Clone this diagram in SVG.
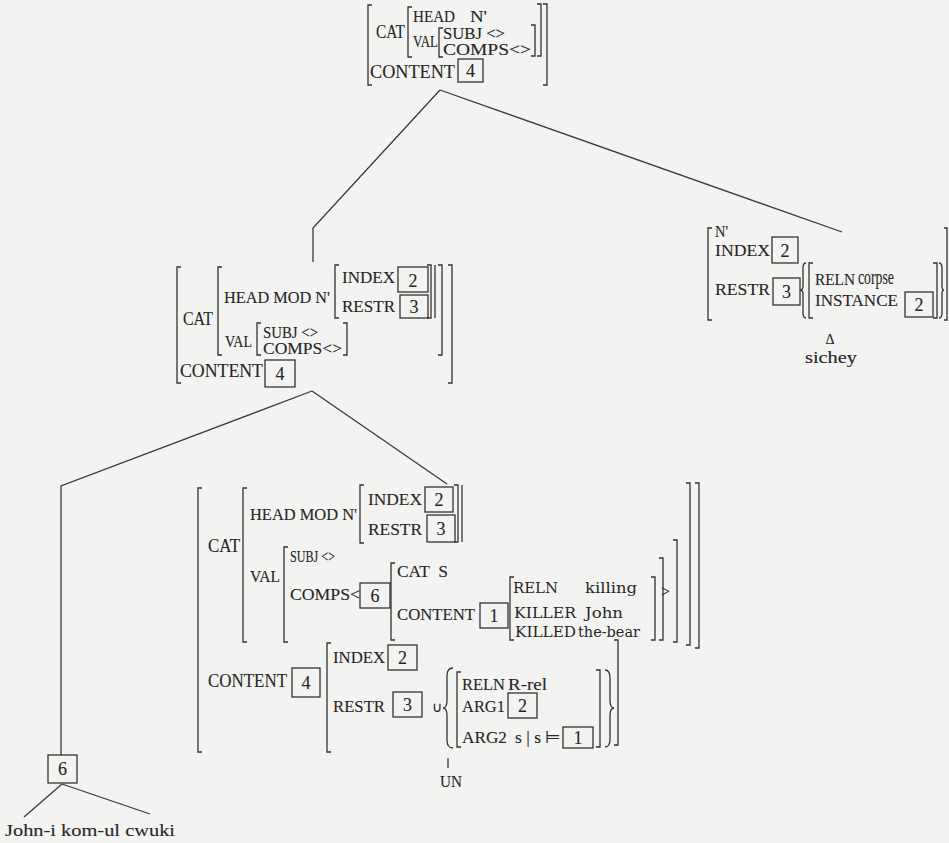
<svg xmlns="http://www.w3.org/2000/svg" width="949" height="843" viewBox="0 0 949 843">
<style>
.t{font-family:"Liberation Serif","Times New Roman",serif;font-size:17px;fill:#262626;stroke:#262626;stroke-width:0.12}
.L{font-size:19px}
.M{font-size:18px}
.s{font-size:16px}
.c{font-family:"DejaVu Serif","Liberation Serif",serif;font-size:15px;fill:#262626}
.n{font-family:"Liberation Serif","Times New Roman",serif;font-size:18px;fill:#262626;stroke:#262626;stroke-width:0.12;text-anchor:middle}
.b{fill:none;stroke:#333;stroke-width:1.3}
.k{fill:none;stroke:#333;stroke-width:1.3}
.e{fill:none;stroke:#3a3a3a;stroke-width:1.3}
</style>
<rect x="0" y="0" width="949" height="843" fill="#f3f3f1"/>

<g id="connectors">
<path class="e" d="M440,90 L313,228 V262"/>
<path class="e" d="M440,90 L842,232"/>
<path class="e" d="M312,391 L61,486 V755"/>
<path class="e" d="M312,391 L447,484"/>
<path class="e" d="M62,784 L24,817"/>
<path class="e" d="M62,784 L150,814"/>
</g>

<g id="n-top">
<path class="b" d="M372,5H368V85H372"/>
<path class="b" d="M412,7H408V57H412"/>
<path class="b" d="M443,28H439V57H443"/>
<path class="b" d="M531,25H535V56H531"/>
<path class="b" d="M537,4H541V56H537"/>
<path class="b" d="M543,4H547V85H543"/>
<text class="t L" x="376" y="38" textLength="29" lengthAdjust="spacingAndGlyphs">CAT</text>
<text class="t s" x="413" y="22" textLength="42" lengthAdjust="spacingAndGlyphs">HEAD</text>
<text class="t s" x="470" y="22" textLength="17" lengthAdjust="spacingAndGlyphs">N'</text>
<text class="t s" x="413" y="47" textLength="25" lengthAdjust="spacingAndGlyphs">VAL</text>
<text class="t s" x="443" y="39" textLength="62" lengthAdjust="spacingAndGlyphs">SUBJ &lt;&gt;</text>
<text class="t s" x="443" y="55" textLength="88" lengthAdjust="spacingAndGlyphs">COMPS&lt;&gt;</text>
<text class="t L" x="370" y="78" textLength="85" lengthAdjust="spacingAndGlyphs">CONTENT</text>
<rect class="k" x="458" y="59" width="25" height="23"/>
<text class="n" x="470.5" y="77">4</text>
</g>

<g id="n-mid">
<path class="b" d="M181,267H177V383H181"/>
<path class="b" d="M222,267H218V355H222"/>
<path class="b" d="M339,265H335V318H339"/>
<path class="b" d="M427,265H431V318H427"/>
<path class="b" d="M435,265V318"/>
<path class="b" d="M438,265H442V355H438"/>
<path class="b" d="M448,265H452V383H448"/>
<path class="b" d="M261,323H257V355H261"/>
<path class="b" d="M343,323H347V355H343"/>
<text class="t M" x="183" y="325" textLength="30" lengthAdjust="spacingAndGlyphs">CAT</text>
<text class="t" x="224" y="303" textLength="106" lengthAdjust="spacingAndGlyphs">HEAD MOD N'</text>
<text class="t" x="342" y="283" textLength="53" lengthAdjust="spacingAndGlyphs">INDEX</text>
<rect class="k" x="398" y="267" width="30" height="25"/>
<text class="n" x="413" y="287">2</text>
<text class="t" x="342" y="312" textLength="53" lengthAdjust="spacingAndGlyphs">RESTR</text>
<rect class="k" x="400" y="295" width="28" height="23"/>
<text class="n" x="414" y="313">3</text>
<text class="t s" x="225" y="347" textLength="27" lengthAdjust="spacingAndGlyphs">VAL</text>
<text class="t s" x="263" y="338" textLength="55" lengthAdjust="spacingAndGlyphs">SUBJ &lt;&gt;</text>
<text class="t s" x="263" y="354" textLength="79" lengthAdjust="spacingAndGlyphs">COMPS&lt;&gt;</text>
<text class="t M" x="180" y="377" textLength="83" lengthAdjust="spacingAndGlyphs">CONTENT</text>
<rect class="k" x="265" y="360" width="30" height="27"/>
<text class="n" x="280" y="380">4</text>
</g>

<g id="n-right">
<path class="b" d="M712,228H708V320H712"/>
<path class="b" d="M806,263Q803,263 803,268V286Q803,290 800,290Q803,290 803,294V313Q803,318 806,318"/>
<path class="b" d="M813,263H809V318H813"/>
<path class="b" d="M933,263H937V318H933"/>
<path class="b" d="M939,263Q942,263 942,268V286Q942,290 944,290Q942,290 942,294V313Q942,318 939,318"/>
<path class="b" d="M944,228H947V320H944"/>
<text class="t s" x="715" y="237" textLength="13" lengthAdjust="spacingAndGlyphs">N'</text>
<text class="t" x="715" y="256" textLength="55" lengthAdjust="spacingAndGlyphs">INDEX</text>
<rect class="k" x="772" y="237" width="26" height="26"/>
<text class="n" x="785" y="257">2</text>
<text class="t" x="715" y="295" textLength="55" lengthAdjust="spacingAndGlyphs">RESTR</text>
<rect class="k" x="773" y="278" width="27" height="27"/>
<text class="n" x="786.5" y="298">3</text>
<text class="t" x="815" y="285" textLength="40" lengthAdjust="spacingAndGlyphs">RELN</text>
<text class="t" x="858" y="284" style="font-size:20px" textLength="36" lengthAdjust="spacingAndGlyphs">corpse</text>
<text class="t" x="815" y="306" textLength="83" lengthAdjust="spacingAndGlyphs">INSTANCE</text>
<rect class="k" x="905" y="292" width="28" height="25"/>
<text class="n" x="919" y="311">2</text>
<text class="t" x="830" y="344" text-anchor="middle" style="font-size:14px">Δ</text>
<text class="t" x="805" y="363" textLength="52" lengthAdjust="spacingAndGlyphs">sichey</text>
</g>

<g id="n-bottom">
<path class="b" d="M202,488H198V752H202"/>
<path class="b" d="M247,488H243V642H247"/>
<path class="b" d="M364,485H360V543H364"/>
<path class="b" d="M454,485H458V542H454"/>
<path class="b" d="M462,485V542"/>
<path class="b" d="M288,547H284V642H288"/>
<path class="b" d="M395,563H391V640H395"/>
<path class="b" d="M514,577H510V640H514"/>
<path class="b" d="M651,577H655V640H651"/>
<path class="b" d="M659,558H663V640H659"/>
<path class="b" d="M673,540H677V642H673"/>
<path class="b" d="M686,483H690V645H686"/>
<path class="b" d="M695,483H699V648H695"/>
<path class="b" d="M331,643H327V752H331"/>
<path class="b" d="M453,668Q447,668 447,676V700Q447,708 443,708Q447,708 447,716V740Q447,748 453,748"/>
<path class="b" d="M461,672H457V747H461"/>
<path class="b" d="M596,670H600V747H596"/>
<path class="b" d="M605,670Q610,670 610,678V700Q610,708 614,708Q610,708 610,716V739Q610,747 605,747"/>
<path class="b" d="M614,640H618V745H614"/>
<path class="b" d="M448,758V768"/>
<text class="t M" x="208" y="552" textLength="32" lengthAdjust="spacingAndGlyphs">CAT</text>
<text class="t" x="250" y="520" textLength="107" lengthAdjust="spacingAndGlyphs">HEAD MOD N'</text>
<text class="t" x="368" y="505" textLength="54" lengthAdjust="spacingAndGlyphs">INDEX</text>
<rect class="k" x="425" y="487" width="28" height="25"/>
<text class="n" x="439" y="506">2</text>
<text class="t" x="368" y="535" textLength="54" lengthAdjust="spacingAndGlyphs">RESTR</text>
<rect class="k" x="427" y="515" width="28" height="27"/>
<text class="n" x="441" y="535">3</text>
<text class="t" x="250" y="582" textLength="30" lengthAdjust="spacingAndGlyphs">VAL</text>
<text class="t s" x="290" y="562" textLength="45" lengthAdjust="spacingAndGlyphs">SUBJ &lt;&gt;</text>
<text class="t" x="290" y="600" textLength="70" lengthAdjust="spacingAndGlyphs">COMPS&lt;</text>
<rect class="k" x="360" y="583" width="30" height="25"/>
<text class="n" x="375" y="602">6</text>
<text class="t" x="397" y="577" textLength="51" lengthAdjust="spacingAndGlyphs" xml:space="preserve">CAT  S</text>
<text class="t" x="397" y="620" textLength="78" lengthAdjust="spacingAndGlyphs">CONTENT</text>
<rect class="k" x="480" y="603" width="28" height="25"/>
<text class="n" x="494" y="622">1</text>
<text class="c" x="513" y="593" textLength="45" lengthAdjust="spacingAndGlyphs">RELN</text>
<text class="c" x="585" y="593" textLength="52" lengthAdjust="spacingAndGlyphs">killing</text>
<text class="c" x="514" y="618" textLength="62" lengthAdjust="spacingAndGlyphs">KILLER</text>
<text class="c" x="585" y="618" textLength="38" lengthAdjust="spacingAndGlyphs">John</text>
<text class="c" x="515" y="637" textLength="61" lengthAdjust="spacingAndGlyphs">KILLED</text>
<text class="c" x="578" y="637" textLength="62" lengthAdjust="spacingAndGlyphs">the-bear</text>
<text class="t" x="661" y="597" textLength="9" lengthAdjust="spacingAndGlyphs">&gt;</text>
<text class="t M" x="208" y="687" textLength="79" lengthAdjust="spacingAndGlyphs">CONTENT</text>
<rect class="k" x="292" y="668" width="28" height="29"/>
<text class="n" x="306" y="689">4</text>
<text class="t" x="333" y="663" textLength="52" lengthAdjust="spacingAndGlyphs">INDEX</text>
<rect class="k" x="388" y="645" width="29" height="25"/>
<text class="n" x="402.5" y="664">2</text>
<text class="t" x="333" y="712" textLength="52" lengthAdjust="spacingAndGlyphs">RESTR</text>
<rect class="k" x="393" y="692" width="29" height="25"/>
<text class="n" x="407.5" y="711">3</text>
<text class="t" x="432" y="712" style="font-size:14px">∪</text>
<text class="t" x="462" y="690" textLength="43" lengthAdjust="spacingAndGlyphs">RELN</text>
<text class="t" x="508" y="690" textLength="39" lengthAdjust="spacingAndGlyphs">R-rel</text>
<text class="t" x="462" y="712" textLength="43" lengthAdjust="spacingAndGlyphs">ARG1</text>
<rect class="k" x="508" y="693" width="29" height="25"/>
<text class="n" x="522.5" y="712">2</text>
<text class="t" x="462" y="743" textLength="45" lengthAdjust="spacingAndGlyphs">ARG2</text>
<text class="t" x="515" y="743" textLength="46" lengthAdjust="spacingAndGlyphs">s | s ⊨</text>
<rect class="k" x="563" y="727" width="30" height="21"/>
<text class="n" x="578" y="744">1</text>
<text class="t" x="440" y="787" textLength="22" lengthAdjust="spacingAndGlyphs">UN</text>
</g>

<g id="n-leaf">
<rect class="k" x="48" y="755" width="29" height="28"/>
<text class="n" x="62.5" y="775">6</text>
<text class="t" x="5" y="836" textLength="170" lengthAdjust="spacingAndGlyphs">John-i  kom-ul  cwuki</text>
</g>
</svg>
